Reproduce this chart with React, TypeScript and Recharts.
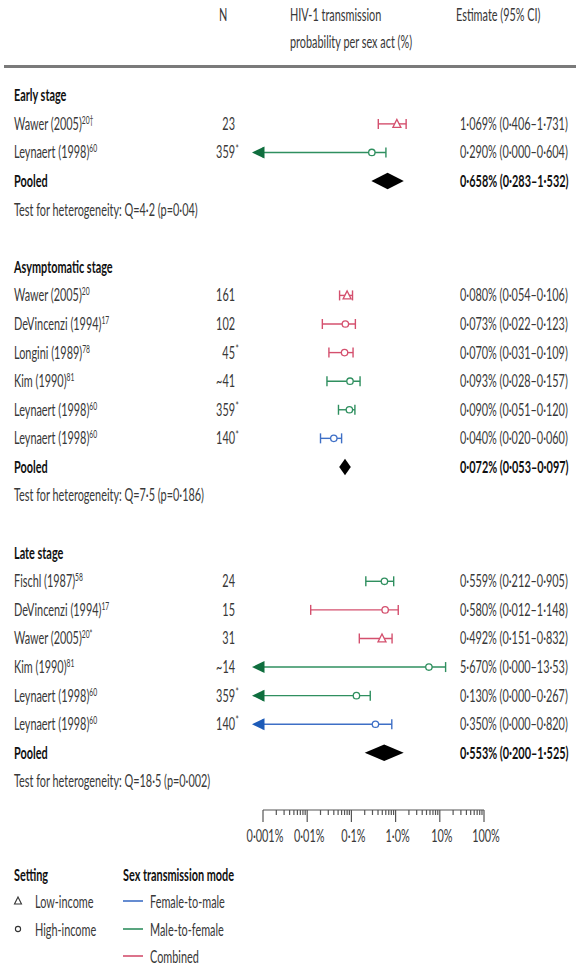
import React from "react";
import {
  ComposedChart,
  ErrorBar,
  ReferenceArea,
  Scatter,
  XAxis,
  YAxis,
} from "recharts";

// ---- data ----
const studyNames = [
  "Wawer (2005)", "Leynaert (1998)",
  "Wawer (2005)", "DeVincenzi (1994)", "Longini (1989)", "Kim (1990)", "Leynaert (1998)", "Leynaert (1998)",
  "Fischl (1987)", "DeVincenzi (1994)", "Wawer (2005)", "Kim (1990)", "Leynaert (1998)", "Leynaert (1998)",
];
const studyRefs = ["20†", "60", "20", "17", "78", "81", "60", "60", "58", "17", "20*", "81", "60", "60"];
const studyN = ["23", "359*", "161", "102", "45*", "~41", "359*", "140*", "24", "15", "31", "~14", "359*", "140*"];
const studyRow = [1, 2, 7, 8, 9, 10, 11, 12, 17, 18, 19, 20, 21, 22];
const studyEst = [1.069, 0.29, 0.08, 0.073, 0.07, 0.093, 0.09, 0.04, 0.559, 0.58, 0.492, 5.67, 0.13, 0.35];
const studyLow = [0.406, 0, 0.054, 0.022, 0.031, 0.028, 0.051, 0.02, 0.212, 0.012, 0.151, 0, 0, 0];
const studyHigh = [1.731, 0.604, 0.106, 0.123, 0.109, 0.157, 0.12, 0.06, 0.905, 1.148, 0.832, 13.53, 0.267, 0.82];
const studyMode = ["combined", "mtf", "combined", "combined", "combined", "mtf", "mtf", "ftm", "mtf", "combined", "combined", "mtf", "mtf", "ftm"];
const studySetting = ["low", "high", "low", "high", "high", "high", "high", "high", "high", "high", "low", "high", "high", "high"];

const stageNames = ["Early stage", "Asymptomatic stage", "Late stage"];
const stageRow = [0, 6, 16];
const pooledRow = [3, 13, 23];
const pooledEst = [0.658, 0.072, 0.553];
const pooledLow = [0.283, 0.053, 0.2];
const pooledHigh = [1.532, 0.097, 1.525];
const testRow = [4, 14, 24];
const heterogeneity = ["Q=4·2 (p=0·04)", "Q=7·5 (p=0·186)", "Q=18·5 (p=0·002)"];

const axisTicks = [0.001, 0.01, 0.1, 1, 10, 100];
const axisTickLabels = ["0·001%", "0·01%", "0·1%", "1·0%", "10%", "100%"];
const minorSteps = [2, 3, 4, 5, 6, 7, 8, 9];

const AXIS_MIN = 0.001;
const AXIS_MAX = 100;
const ROW_COUNT = 25;

const FONT = "Lato, 'Open Sans', sans-serif";
const SQUEEZE = 0.64;
const FS = 17;
const TEXT = "#383838";
const DARK = "#111";

const modeColor: Record<string, string> = { combined: "#d4506e", mtf: "#2f8f5f", ftm: "#3e6fc6" };
const arrowColor: Record<string, string> = { combined: "#b83050", mtf: "#0f6e3e", ftm: "#1d5bb8" };

const fmt = (v: number) => (v >= 10 ? v.toFixed(2) : v.toFixed(3)).replace(".", "·");
const ciText = (e: number, l: number, h: number) => `${fmt(e)}% (${fmt(l)}–${fmt(h)})`;

const studies = studyNames.map((name, i) => ({
  name,
  ref: studyRefs[i],
  n: studyN[i],
  row: studyRow[i],
  x: studyEst[i],
  lo: studyLow[i],
  hi: studyHigh[i],
  mode: studyMode[i],
  setting: studySetting[i],
  err: [studyEst[i] - Math.max(studyLow[i], AXIS_MIN), studyHigh[i] - studyEst[i]],
}));

const arrows = studies.filter((s) => s.lo === 0).map((s) => ({ row: s.row, x: AXIS_MIN, mode: s.mode }));

type RowInfo = { kind: string; label: string; sup?: string; n?: string; est?: string };
const rowInfo: Record<number, RowInfo> = {};
stageNames.forEach((s, i) => (rowInfo[stageRow[i]] = { kind: "stage", label: s }));
studies.forEach((s) => (rowInfo[s.row] = { kind: "study", label: s.name, sup: s.ref, n: s.n, est: ciText(s.x, s.lo, s.hi) }));
pooledRow.forEach((r, i) => (rowInfo[r] = { kind: "pooled", label: "Pooled", est: ciText(pooledEst[i], pooledLow[i], pooledHigh[i]) }));
testRow.forEach((r, i) => (rowInfo[r] = { kind: "test", label: `Test for heterogeneity: ${heterogeneity[i]}` }));

const rowTicks = Array.from({ length: ROW_COUNT }, (_, i) => i);
const allAxisTicks = axisTicks.flatMap((t, i) => (i < axisTicks.length - 1 ? [t, ...minorSteps.map((m) => t * m)] : [t]));

function Txt({ x, y, anchor = "start", bold = false, size = FS, color, children }: any) {
  return (
    <g transform={`translate(${x},${y}) scale(${SQUEEZE},1)`}>
      <text
        x={0}
        y={0}
        dy="0.35em"
        textAnchor={anchor}
        fontFamily={FONT}
        fontSize={size}
        fontWeight={bold ? 700 : 400}
        fill={color || (bold ? DARK : TEXT)}
      >
        {children}
      </text>
    </g>
  );
}

function RowTick(props: any) {
  const { y, payload } = props;
  const r = rowInfo[payload.value];
  if (!r) return null;
  const bold = r.kind === "stage" || r.kind === "pooled";
  const nBase = r.n ? r.n.replace("*", "") : "";
  const star = r.n && r.n.includes("*");
  return (
    <g>
      <Txt x={14} y={y} bold={bold}>
        {r.label}
        {r.sup && (
          <tspan dy={-6} fontSize={10.5}>
            {r.sup}
          </tspan>
        )}
      </Txt>
      {r.n && (
        <Txt x={235} y={y} anchor="end">
          {nBase}
        </Txt>
      )}
      {star && (
        <Txt x={235.5} y={y - 4} size={12}>
          *
        </Txt>
      )}
      {r.est && (
        <Txt x={460} y={y} bold={r.kind === "pooled"}>
          {r.est}
        </Txt>
      )}
    </g>
  );
}

function AxisTick(props: any) {
  const { x, y, payload } = props;
  const idx = axisTicks.indexOf(payload.value);
  const major = idx >= 0;
  return (
    <g>
      <line x1={x} x2={x} y1={y} y2={y + (major ? 12 : 5)} stroke="#555" strokeWidth={1.2} />
      {major && (
        <Txt x={x + 2} y={y + 26} anchor="middle">
          {axisTickLabels[idx]}
        </Txt>
      )}
    </g>
  );
}

function Marker(props: any) {
  const { cx, cy, payload } = props;
  const c = modeColor[payload.mode];
  if (payload.setting === "low") {
    return (
      <polygon
        points={`${cx},${cy - 4.5} ${cx - 4},${cy + 3.5} ${cx + 4},${cy + 3.5}`}
        fill="#fff"
        stroke={c}
        strokeWidth={1.3}
      />
    );
  }
  return <circle cx={cx} cy={cy} r={3.2} fill="#fff" stroke={c} strokeWidth={1.3} />;
}

function ArrowHead(props: any) {
  const { cx, cy, payload } = props;
  return (
    <polygon
      points={`${cx - 11},${cy} ${cx + 1.5},${cy - 6} ${cx + 1.5},${cy + 6}`}
      fill={arrowColor[payload.mode]}
    />
  );
}

function Diamond(props: any) {
  const { x, y, width, height } = props;
  const mx = x + width / 2;
  const my = y + height / 2;
  return <polygon points={`${x},${my} ${mx},${y} ${x + width},${my} ${mx},${y + height}`} fill="#000" />;
}

export default function App() {
  const modes = ["combined", "mtf", "ftm"];
  return (
    <div style={{ position: "relative", width: 576, height: 971, background: "#fff" }}>
      <style>{"body{margin:0}"}</style>
      <ComposedChart width={576} height={971} margin={{ top: 81, right: 92, bottom: 121, left: 8 }}>
        <XAxis
          type="number"
          dataKey="x"
          scale="log"
          domain={[AXIS_MIN, AXIS_MAX]}
          ticks={allAxisTicks}
          interval={0}
          tick={<AxisTick />}
          tickLine={false}
          tickSize={0}
          tickMargin={0}
          axisLine={{ stroke: "#555", strokeWidth: 1.2 }}
          height={40}
        />
        <YAxis
          type="number"
          dataKey="row"
          domain={[-0.5, ROW_COUNT]}
          reversed
          ticks={rowTicks}
          interval={0}
          tick={<RowTick />}
          axisLine={false}
          tickLine={false}
          width={255}
        />
        {pooledRow.map((r, i) => (
          <ReferenceArea
            key={`pool-${r}`}
            x1={pooledLow[i]}
            x2={pooledHigh[i]}
            y1={r - 0.29}
            y2={r + 0.29}
            ifOverflow="visible"
            shape={<Diamond />}
          />
        ))}
        {modes.map((m) => (
          <Scatter
            key={m}
            data={studies.filter((s) => s.mode === m)}
            shape={<Marker />}
            isAnimationActive={false}
          >
            <ErrorBar dataKey="err" direction="x" width={5} stroke={modeColor[m]} strokeWidth={1.4} isAnimationActive={false} />
          </Scatter>
        ))}
        <Scatter data={arrows} shape={<ArrowHead />} isAnimationActive={false} />
      </ComposedChart>

      <svg width={576} height={971} style={{ position: "absolute", left: 0, top: 0, pointerEvents: "none" }}>
        <Txt x={219} y={15}>N</Txt>
        <Txt x={290} y={15}>HIV-1 transmission</Txt>
        <Txt x={290} y={42}>probability per sex act (%)</Txt>
        <Txt x={456} y={15}>Estimate (95% CI)</Txt>
        <line x1={4} x2={576} y1={66.5} y2={66.5} stroke="#7a7a7a" strokeWidth={3} />

        <Txt x={14} y={875} bold>Setting</Txt>
        <polygon points="18,897 14.5,904 21.5,904" fill="none" stroke="#333" strokeWidth={1.1} />
        <Txt x={35} y={902}>Low-income</Txt>
        <circle cx={18} cy={929} r={2.6} fill="none" stroke="#333" strokeWidth={1.1} />
        <Txt x={35} y={930}>High-income</Txt>

        <Txt x={123} y={875} bold>Sex transmission mode</Txt>
        <line x1={123} x2={143} y1={901} y2={901} stroke={modeColor.ftm} strokeWidth={1.6} />
        <Txt x={150} y={902}>Female-to-male</Txt>
        <line x1={123} x2={143} y1={929} y2={929} stroke={modeColor.mtf} strokeWidth={1.6} />
        <Txt x={150} y={930}>Male-to-female</Txt>
        <line x1={123} x2={143} y1={956} y2={956} stroke={modeColor.combined} strokeWidth={1.6} />
        <Txt x={150} y={957}>Combined</Txt>
      </svg>
    </div>
  );
}
